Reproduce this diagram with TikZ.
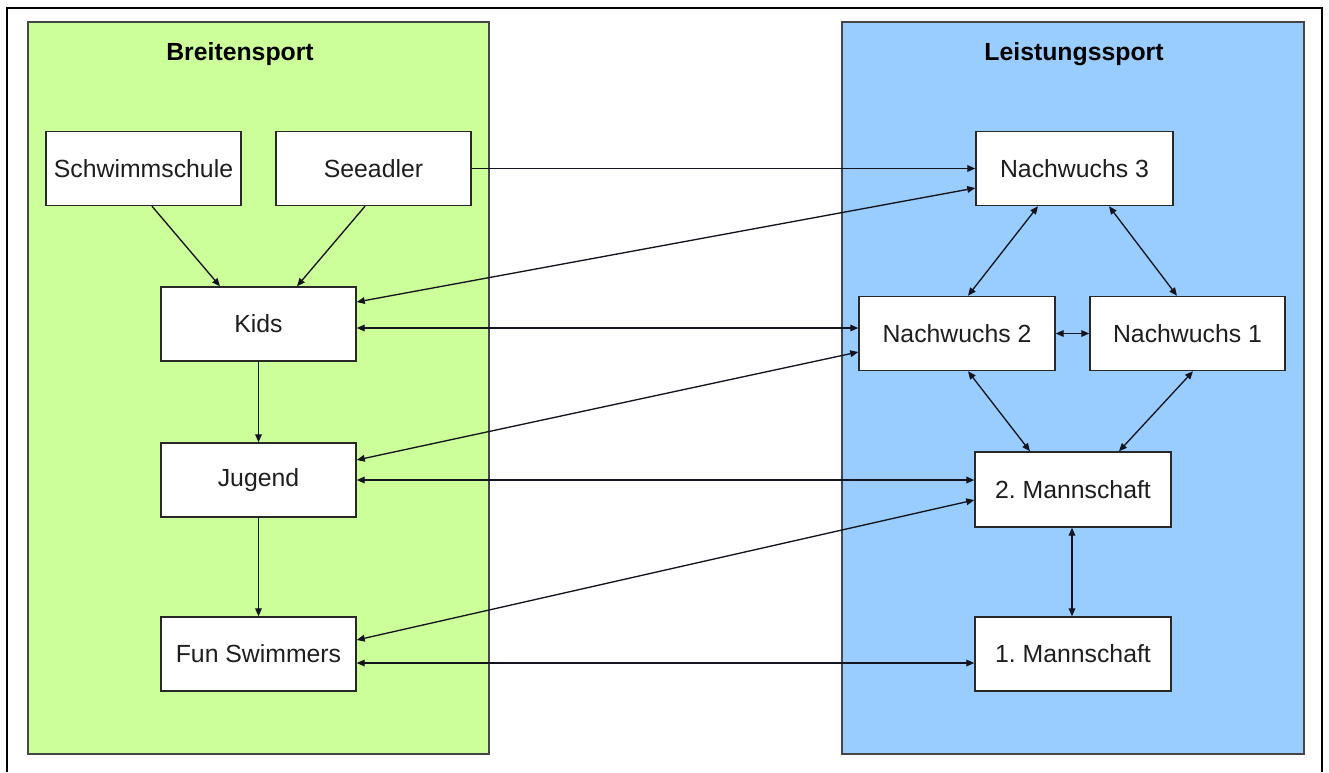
\documentclass[tikz,border=0pt]{standalone}
\usepackage{fontspec}
\setmainfont{Liberation Sans}
\usetikzlibrary{calc,arrows.meta}
\definecolor{greenbg}{RGB}{204,255,153}
\definecolor{bluebg}{RGB}{153,204,255}
\definecolor{boxline}{RGB}{40,40,40}
\definecolor{txt}{RGB}{30,30,30}
\definecolor{lin}{RGB}{20,20,30}
\definecolor{contline}{RGB}{70,70,70}
\frenchspacing
\begin{document}
\begin{tikzpicture}[x=0.75pt,y=-0.75pt,
  box/.style={draw=boxline,fill=white,line width=1.1pt,minimum width=146.25pt,
    minimum height=55.5pt,inner sep=0pt,text=txt,font=\fontsize{18.6}{22}\selectfont},
  container/.style={draw=contline,line width=1.3pt,inner sep=0pt,minimum width=346pt,minimum height=549pt},
  title/.style={font=\bfseries\fontsize{18.6}{22}\selectfont,text=black,inner sep=0pt},
  tip/.tip={Triangle[length=6pt,width=5pt]},
  con/.style={draw=lin,line width=1pt,-tip},
  bi/.style={draw=lin,line width=1pt,tip-tip}]
\useasboundingbox (0,0) rectangle (1329,772);
\fill[white] (0,0) rectangle (1329,772);
\draw[line width=1.6pt,black] (7,772) -- (7,8) -- (1322,8) -- (1322,772);

\node[container,fill=greenbg] (gbox) at (258.5,388) {};
\node[container,fill=bluebg] (bbox) at (1073,388) {};
\node[title] (gtitle) at (240,54) {Breitensport};
\node[title] (btitle) at (1074,54) {Leistungssport};

\node[box] (schw) at (143.5,168.5) {Schwimmschule};
\node[box] (seea) at (373.5,168.5) {Seeadler};
\node[box] (kids) at (258.5,324) {Kids};
\node[box] (jug) at (258.5,480) {Jugend};
\node[box] (fun) at (258.5,654) {Fun Swimmers};

\node[box,minimum width=147.75pt] (n3) at (1074.5,168.5) {Nachwuchs 3};
\node[box,minimum width=147pt] (n2) at (957,333.5) {Nachwuchs 2};
\node[box] (n1) at (1187.5,333.5) {Nachwuchs 1};
\node[box,minimum width=147pt,minimum height=56.25pt] (m2) at (1073,489.5) {2. Mannschaft};
\node[box,minimum width=147pt] (m1) at (1073,654) {1. Mannschaft};

% Breitensport internal
\draw[con] ($(schw.south)+(8.5,0)$) -- ($(kids.north)+(-38.5,0)$);
\draw[con] ($(seea.south)+(-8.5,0)$) -- ($(kids.north)+(38.5,0)$);
\draw[con] (kids.south) -- (jug.north);
\draw[con] (jug.south) -- (fun.north);

% cross connections
\draw[con] (seea.east) -- (n3.west);
\draw[bi] ($(kids.east)+(0,-22)$) -- ($(n3.west)+(0,19.5)$);
\draw[bi] ($(kids.east)+(0,4)$) -- ($(n2.west)+(0,-5.5)$);
\draw[bi] ($(jug.east)+(0,-20)$) -- ($(n2.west)+(0,18.5)$);
\draw[bi] ($(jug.east)+(0,0)$) -- ($(m2.west)+(0,-9.5)$);
\draw[bi] ($(fun.east)+(0,-14)$) -- ($(m2.west)+(0,10.5)$);
\draw[bi] ($(fun.east)+(0,9)$) -- ($(m1.west)+(0,9)$);

% Leistungssport internal
\draw[bi] ($(n3.south)+(-36.5,0)$) -- ($(n2.north)+(11,0)$);
\draw[bi] ($(n3.south)+(34.5,0)$) -- ($(n1.north)+(-10.5,0)$);
\draw[bi] (n2.east) -- (n1.west);
\draw[bi] ($(n2.south)+(11,0)$) -- ($(m2.north)+(-43,0)$);
\draw[bi] ($(n1.south)+(5.5,0)$) -- ($(m2.north)+(46,0)$);
\draw[bi] ($(m2.south)+(-1,0)$) -- ($(m1.north)+(-1,0)$);
\end{tikzpicture}
\end{document}
